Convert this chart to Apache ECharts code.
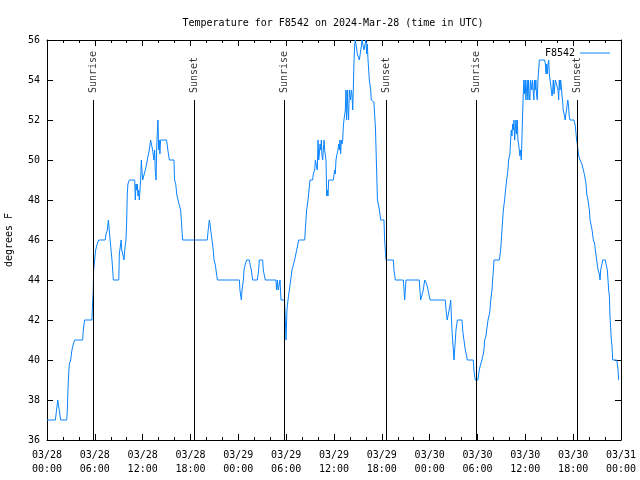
<!DOCTYPE html>
<html><head><meta charset="utf-8">
<script src="https://cdn.jsdelivr.net/npm/echarts@6/dist/echarts.min.js"></script>
<style>html,body{margin:0;padding:0;background:#fff}#c{width:640px;height:480px}</style>
</head><body><div id="c"></div>
<script>
const chartTitle = 'Temperature for F8542 on 2024-Mar-28 (time in UTC)';
const seriesName = 'F8542';
const yAxisName = 'degrees F';
const monthStr = '03';
const startDay = 28;
const xMax = 72, xStep = 6;
const yMin = 36, yMax = 56, yStep = 2;
// [hours since 03/28 00:00 UTC, temperature F]
const readings = [
[0,37],[1.05,37],[1.2,37.5],[1.35,38],[1.5,38],[1.72,37],[2.47,37],[2.55,37.5],[2.63,38.5],[2.72,39.3],
[2.8,39.8],[2.97,40],[3.13,40.5],[3.3,40.8],[3.47,41],[4.47,41],[4.55,41.5],[4.72,42],[5.64,42],[5.68,42.5],
[5.78,42.5],[5.8,43.5],[5.85,44.5],[5.98,45],[6.1,45.5],[6.3,45.8],[6.49,46],[7.3,46],[7.4,46.3],[7.57,46.5],
[7.7,47],[7.94,47],[8.03,45.5],[8.15,45],[8.24,44.5],[8.32,44],[9,44],[9.03,44.5],[9.07,45.3],[9.24,45.8],
[9.3,46],[9.37,45.5],[9.5,45.3],[9.66,45],[9.75,45.5],[9.83,45.8],[9.91,46],[10,47],[10.07,48.3],[10.15,48.8],
[10.33,49],[11,49],[11.08,48],[11.16,48.8],[11.25,48.5],[11.33,48.8],[11.41,48.2],[11.5,48.5],[11.58,48],[11.66,48.5],
[11.75,49],[11.83,50],[11.91,49.5],[12,49],[12.25,49],[12.33,49.5],[12.5,49.8],[12.58,50],[12.75,50],[12.83,50.5],
[13,51],[13.16,51],[13.25,50.5],[13.41,50],[13.5,50.5],[13.58,49.5],[13.68,49],[13.75,50.5],[13.83,51.3],[13.92,52],
[14,50.5],[14.08,51],[14.16,50.3],[14.25,51],[15,51],[15.16,50.5],[15.35,50],[15.93,50],[16,49],[16.15,48.8],
[16.27,48.3],[16.43,48],[16.68,48],[16.76,47.5],[16.85,47],[16.93,46.5],[17.02,46],[20.1,46],[20.22,46.5],[20.36,47],
[20.45,46.8],[20.53,46.5],[20.7,46],[20.85,45.5],[20.95,45],[21.1,44.8],[21.2,44.5],[21.37,44],[24.13,44],[24.2,43.5],
[24.38,43],[24.46,43.5],[24.63,44],[24.71,44.5],[24.88,44.8],[25.05,45],[25.38,45],[25.46,44.8],[25.63,44.5],[25.8,44],
[26.38,44],[26.55,44.5],[26.63,45],[27.05,45],[27.13,44.5],[27.38,44],[28.72,44],[28.8,43.5],[28.9,44],[29,43.5],
[29.1,43.5],[29.23,44],[29.35,43],[29.8,43],[29.85,42.5],[29.98,41],[30.06,42],[30.1,42.5],[30.23,43],[30.4,43.5],
[30.57,44],[30.73,44.5],[30.98,44.5],[31.06,45],[31.24,45],[31.32,45.5],[31.49,45.5],[31.57,46],[32.32,46],[32.4,46.5],
[32.57,47.5],[32.74,48],[32.82,48.3],[32.99,49],[33.32,49],[33.4,49.3],[33.58,49.5],[33.66,50],[33.83,50],[33.9,49.5],
[34,51],[34.08,50],[34.16,50.3],[34.25,50.8],[34.33,50.5],[34.41,51],[34.5,50.2],[34.58,50],[34.66,50.5],[34.75,51],
[34.83,50.5],[35,50],[35.08,48.2],[35.16,48.5],[35.25,48.2],[35.33,49],[35.92,49],[36.08,49.5],[36.16,49.3],[36.25,50],
[36.33,50.2],[36.5,50.5],[36.59,50.8],[36.67,50.5],[36.75,51],[36.83,50.3],[36.92,51],[37,50.8],[37.09,51],[37.17,51.7],
[37.25,52],[37.33,52],[37.42,52.5],[37.5,53.5],[37.58,52],[37.66,53.5],[37.75,52.5],[37.83,52],[37.92,53.5],[38,53.5],
[38.08,53],[38.17,53.5],[38.25,53.3],[38.35,52.5],[38.42,53.5],[38.5,54.8],[38.6,55.8],[38.68,56],[38.85,56],[38.93,55.3],
[39.1,55.3],[39.18,55],[39.35,55],[39.43,55.7],[39.51,56],[39.68,56],[39.76,55.5],[39.93,55.5],[40,56],[40.1,55.3],
[40.18,55.8],[40.27,55],[40.35,54.5],[40.43,54],[40.6,53.5],[40.68,53],[41,52.9],[41.2,51.6],[41.36,49.3],[41.45,48],
[41.6,48],[41.7,47.5],[41.86,47],[42.27,47],[42.35,46],[42.52,45],[43.44,45],[43.52,44.5],[43.7,44],[44.7,44],
[44.78,43.5],[44.86,43],[44.95,43.5],[45.03,44],[46.7,44],[46.78,43.5],[46.87,43],[47.12,43],[47.2,43.5],[47.37,44],
[47.54,44],[47.62,43.8],[47.8,43.5],[48.05,43],[49.96,43],[50.05,42.5],[50.2,42],[50.37,42],[50.54,42.7],[50.64,43],
[50.72,42.2],[50.8,41.5],[50.88,41],[50.97,40.5],[51.05,40],[51.13,40.5],[51.22,41],[51.3,41.5],[51.47,42],[52.06,42],
[52.14,41.5],[52.3,41],[52.47,40.5],[52.64,40.2],[52.72,40],[53.47,40],[53.55,39.5],[53.72,39],[54.05,39],[54.22,39.5],
[54.4,39.8],[54.56,40],[54.72,40.3],[54.81,40.5],[54.9,41],[55.07,41.2],[55.15,41.5],[55.32,42],[55.49,42.3],[55.57,42.5],
[55.66,43],[55.82,43.5],[55.9,44],[55.99,44.5],[56.07,45],[56.74,45],[56.9,45.5],[56.99,46],[57.07,46.5],[57.24,47.5],
[57.4,48],[57.57,48.7],[57.66,49],[57.82,49.5],[57.9,50],[58.07,50.3],[58.15,51],[58.24,51.5],[58.32,51.2],[58.41,51.8],
[58.49,51.5],[58.57,52],[58.66,51],[58.74,51.5],[58.82,52],[58.9,51.3],[58.99,52],[59.07,51],[59.16,50.8],[59.24,50.5],
[59.32,50.2],[59.41,50.5],[59.49,50],[59.57,51],[59.66,52.3],[59.74,53.3],[59.82,54],[59.9,53.3],[59.99,54],[60.07,53],
[60.15,53.5],[60.24,54],[60.32,53],[60.4,54],[60.49,53.2],[60.57,53],[60.65,54],[60.82,53.5],[60.9,54],[61,54],
[61.07,53],[61.15,54],[61.24,53.5],[61.32,54],[61.4,53.3],[61.5,53],[61.58,54],[61.67,54.5],[61.76,55],[62.43,55],
[62.51,54.8],[62.6,54.3],[62.68,54.8],[62.76,54.3],[62.85,54.8],[62.93,55],[63.01,54.3],[63.1,54],[63.18,53.8],[63.26,53.5],
[63.35,53.2],[63.43,53.5],[63.51,54],[63.6,53.3],[63.68,53.2],[63.76,54],[63.85,54],[64.01,54],[64.1,53.5],[64.18,53],
[64.26,54],[64.35,53.5],[64.43,54],[64.51,53.7],[64.6,53.2],[64.67,53],[64.75,52.5],[64.92,52.2],[65,52],[65.08,52.3],
[65.17,52.5],[65.25,52.8],[65.33,53],[65.42,52.7],[65.5,52.2],[65.6,52],[66.1,52],[66.27,51.7],[66.36,51.3],[66.44,51],
[66.52,50.8],[66.6,50.5],[66.7,50.2],[66.86,50],[67.02,50],[67.1,49.8],[67.28,49.5],[67.45,49.2],[67.61,48.8],[67.7,48.3],
[67.86,48],[68.03,47.5],[68.12,47],[68.37,46.5],[68.53,46],[68.7,45.8],[68.78,45.5],[68.95,45],[69.12,44.5],[69.28,44.3],
[69.37,44],[69.45,44.5],[69.62,44.8],[69.7,45],[70.04,45],[70.12,44.8],[70.29,44.5],[70.37,44],[70.45,43.5],[70.54,43.2],
[70.62,42.2],[70.79,41],[70.87,40.7],[70.96,40],[71.46,40],[71.54,39.8],[71.63,39.5],[71.71,39]
];
const eventNames = ['Sunrise','Sunset','Sunrise','Sunset','Sunrise','Sunset'];
const eventHours = [5.82, 18.5, 29.82, 42.52, 53.88, 66.52];
const eventTop = 53;

const FONT = 'DejaVu Sans Mono';
const LINE_COLOR = '#0a84ff';
const chart = echarts.init(document.getElementById('c'), null, {renderer: 'canvas'});

function fmtX(v) {
  const day = startDay + Math.floor(v / 24);
  const hr = v % 24;
  const p = n => String(n).padStart(2, '0');
  return monthStr + '/' + p(day) + '\n' + p(hr) + ':00';
}
const tickStyle = {lineStyle: {color: '#000', width: 1}};
const axisLineStyle = {show: true, onZero: false, lineStyle: {color: '#000', width: 1}};

chart.setOption({
  animation: false,
  backgroundColor: '#fff',
  title: {
    text: chartTitle, left: 328, top: 13, textAlign: 'center',
    textStyle: {fontFamily: FONT, fontSize: 10, fontWeight: 'normal', color: '#000'}
  },
  legend: {
    data: [seriesName], right: 25, top: 43, align: 'right',
    icon: 'rect', itemWidth: 30, itemHeight: 1, itemGap: 6,
    textStyle: {fontFamily: FONT, fontSize: 10, color: '#000'}
  },
  grid: {left: 47, right: 19, top: 40, bottom: 40, containLabel: false, outerBoundsMode: 'none'},
  xAxis: [{
    type: 'value', min: 0, max: xMax, interval: xStep, position: 'bottom',
    axisLine: axisLineStyle,
    axisTick: {show: true, inside: true, length: 6, ...tickStyle},
    minorTick: {show: true, splitNumber: 3, length: 3, ...tickStyle},
    splitLine: {show: false}, minorSplitLine: {show: false},
    axisLabel: {formatter: fmtX, margin: 8, lineHeight: 14, fontFamily: FONT, fontSize: 10, color: '#000'}
  }, {
    type: 'value', min: 0, max: xMax, interval: xStep, position: 'top',
    axisLine: axisLineStyle,
    axisTick: {show: true, inside: true, length: 6, ...tickStyle},
    minorTick: {show: true, splitNumber: 3, length: 3, ...tickStyle},
    splitLine: {show: false}, axisLabel: {show: false}
  }],
  yAxis: [{
    type: 'value', min: yMin, max: yMax, interval: yStep, position: 'left',
    name: yAxisName, nameLocation: 'middle', nameRotate: 90, nameGap: 33,
    nameTextStyle: {fontFamily: FONT, fontSize: 10, color: '#000'},
    axisLine: axisLineStyle,
    axisTick: {show: true, inside: true, length: 6, ...tickStyle},
    splitLine: {show: false},
    axisLabel: {margin: 7, fontFamily: FONT, fontSize: 10, color: '#000'}
  }, {
    type: 'value', min: yMin, max: yMax, interval: yStep, position: 'right',
    axisLine: axisLineStyle,
    axisTick: {show: true, inside: true, length: 6, ...tickStyle},
    splitLine: {show: false}, axisLabel: {show: false}
  }],
  series: [{
    name: seriesName, type: 'line', data: readings,
    xAxisIndex: 0, yAxisIndex: 0,
    showSymbol: false, symbol: 'none', clip: false,
    lineStyle: {color: LINE_COLOR, width: 1}, itemStyle: {color: LINE_COLOR},
    markLine: {
      silent: true, symbol: ['none', 'none'], label: {show: false},
      lineStyle: {color: '#000', width: 1, type: 'solid'},
      data: eventHours.map(h => [{coord: [h, yMin]}, {coord: [h, eventTop]}])
    },
    z: 3
  }, {
    name: 'events', type: 'scatter', symbolSize: 0, silent: true,
    data: eventHours.map((h, i) => ({value: [h, eventTop], name: eventNames[i]})),
    label: {
      show: true, formatter: '{b}', rotate: 90, position: [0, -7],
      align: 'left', verticalAlign: 'middle',
      fontFamily: FONT, fontSize: 10, color: '#000'
    }
  }]
});
</script></body></html>
